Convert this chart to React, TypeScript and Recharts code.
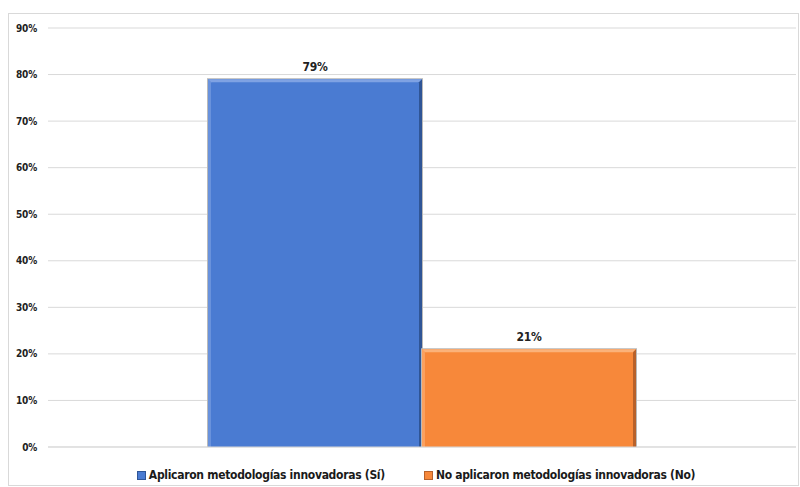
import React from 'react';
import { BarChart, Bar, XAxis, YAxis, CartesianGrid, LabelList } from 'recharts';

const categories = ['Metodologías'];
const siValues = [79];
const noValues = [21];
const yTicks = [0, 10, 20, 30, 40, 50, 60, 70, 80, 90];

const seriesNames = {
    si: 'Aplicaron metodologías innovadoras (Sí)',
    no: 'No aplicaron metodologías innovadoras (No)',
};
const colors = { si: '#4a7bd2', no: '#f7883a' };
const dark = { si: '#2f5596', no: '#b8612a' };
const light = { si: '#7fa2e3', no: '#fbb27a' };

const FONT = "'DejaVu Sans Condensed', 'Liberation Sans', sans-serif";

const data = categories.map((name, i) => ({ name, si: siValues[i], no: noValues[i] }));

// bevelled bar: flat face with lit top/left edges and a shaded right edge
const bevelShape = (key: 'si' | 'no') => (props: any) => {
    const { x, y, width, height } = props;
    const b = 3;
    return (
        <g>
            <rect x={x - 1} y={y - 1} width={width + 2} height={height + 1} fill="#b9b9b9" />
            <rect x={x} y={y} width={width} height={height} fill={colors[key]} />
            <polygon points={`${x},${y} ${x + width},${y} ${x + width - b},${y + b} ${x + b},${y + b}`} fill={light[key]} />
            <polygon points={`${x},${y} ${x + b},${y + b} ${x + b},${y + height} ${x},${y + height}`} fill={light[key]} opacity={0.6} />
            <polygon points={`${x + width},${y} ${x + width},${y + height} ${x + width - b},${y + height} ${x + width - b},${y + b}`} fill={dark[key]} />
        </g>
    );
};

const ChartLegend = () => (
    <div style={{ position: 'absolute', top: 467, left: 0, width: 800, display: 'flex', justifyContent: 'center', gap: 39, fontFamily: FONT, fontWeight: 'bold', fontSize: 12, letterSpacing: -0.3, lineHeight: '16px', color: '#1a1a1a', paddingLeft: 32, boxSizing: 'border-box' }}>
        {(['si', 'no'] as const).map((k) => (
            <div key={k} style={{ display: 'flex', alignItems: 'center' }}>
                <span style={{ width: 7, height: 7, background: colors[k], border: `1px solid ${dark[k]}`, marginRight: 3, display: 'inline-block' }} />
                <span>{seriesNames[k]}</span>
            </div>
        ))}
    </div>
);

const labelStyle = { fontSize: 12, fontWeight: 'bold', fill: '#222', fontFamily: FONT, letterSpacing: -0.3 };

const App = () => {
    return (
        <div style={{ position: 'absolute', left: 0, top: 0, width: 800, height: 487, background: '#fff' }}>
            <div style={{ position: 'absolute', left: 8, top: 13, width: 789, height: 471, border: '1px solid #d9d9d9' }} />
            <BarChart
                width={800}
                height={487}
                data={data}
                margin={{ top: 28, right: 4, bottom: 0, left: 0 }}
                barCategoryGap={160}
                barGap={0}
            >
                <CartesianGrid vertical={false} stroke="#d9d9d9" />
                <XAxis dataKey="name" tick={false} tickLine={false} axisLine={{ stroke: '#d9d9d9' }} height={40} />
                <YAxis
                    domain={[0, 90]}
                    ticks={yTicks}
                    width={48}
                    axisLine={false}
                    tickLine={false}
                    tickSize={0}
                    tickMargin={11}
                    tickFormatter={(v) => `${v}%`}
                    tick={{ fontSize: 10, fontWeight: 'bold', fill: '#222', fontFamily: FONT, letterSpacing: -0.2 }}
                />
                <Bar dataKey="si" name={seriesNames.si} fill={colors.si} shape={bevelShape('si')} isAnimationActive={false}>
                    <LabelList dataKey="si" position="top" offset={8} formatter={(v: any) => `${v}%`} style={labelStyle} />
                </Bar>
                <Bar dataKey="no" name={seriesNames.no} fill={colors.no} shape={bevelShape('no')} isAnimationActive={false}>
                    <LabelList dataKey="no" position="top" offset={8} formatter={(v: any) => `${v}%`} style={labelStyle} />
                </Bar>
            </BarChart>
            <ChartLegend />
        </div>
    );
};

export default App;
